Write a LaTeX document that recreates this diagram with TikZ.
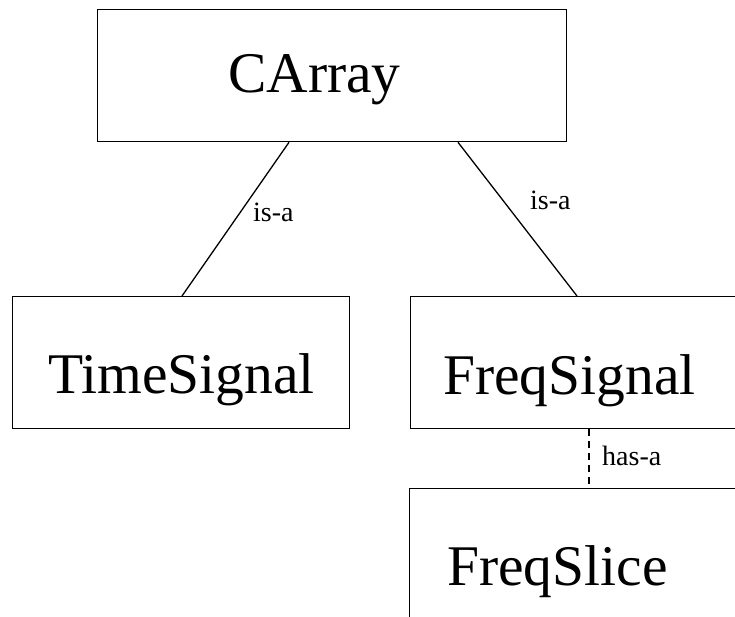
\documentclass[tikz,border=0pt]{standalone}
\usepackage{fontspec}
\setmainfont{Liberation Serif}
\usetikzlibrary{calc}
\begin{document}
\begin{tikzpicture}[x=1pt,y=-1pt,
  box/.style={draw, line width=1.3pt, inner sep=0pt, anchor=north west},
  bigtext/.style={font=\fontsize{57.5}{60}\selectfont, inner sep=0pt, anchor=base west},
  reltext/.style={font=\fontsize{28}{30}\selectfont, inner sep=0pt, anchor=base west},
  link/.style={line width=1.3pt},
  haslink/.style={line width=1.3pt, dash pattern=on 7pt off 5pt}]
\useasboundingbox (0,0) rectangle (735,617);
\clip (0,0) rectangle (735,617);
% class boxes (the right-hand ones run past the page edge)
\node[box, minimum width=469pt, minimum height=132pt] (carray) at (97,9) {};
\node[box, minimum width=337pt, minimum height=132pt] (timesig) at (12,296) {};
\node[box, minimum width=400pt, minimum height=132pt] (freqsig) at (410,296) {};
\node[box, minimum width=400pt, minimum height=220pt] (freqslice) at (409,488) {};
% class names
\node[bigtext] (carraytxt) at (228,93) {CArray};
\node[bigtext] (timesigtxt) at (48,393) {TimeSignal};
\node[bigtext] (freqsigtxt) at (443,394) {FreqSignal};
\node[bigtext] (freqslicetxt) at (447,585) {FreqSlice};
% relations
\draw[link] ($(carray.south west)+(192,0)$) -- ($(timesig.north west)+(170,0)$);
\draw[link] ($(carray.south west)+(361,0)$) -- ($(freqsig.north west)+(167,0)$);
\draw[haslink] ($(freqsig.south west)+(179,0)$) -- ($(freqslice.north west)+(180,0)$);
\node[reltext] (isa1) at (253,222) {is-a};
\node[reltext] (isa2) at (530,210) {is-a};
\node[reltext] (hasa) at (602,465) {has-a};
\end{tikzpicture}
\end{document}
